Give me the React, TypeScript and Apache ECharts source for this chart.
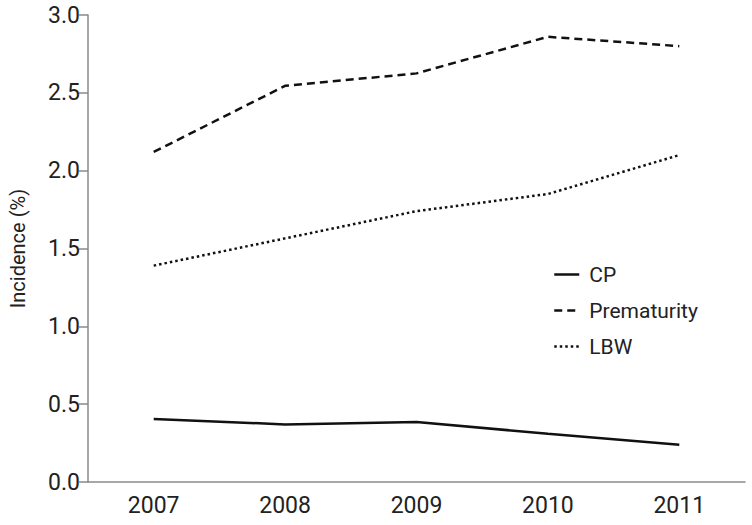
import React, { useEffect, useRef } from "react";
import * as echarts from "echarts";

const years = ["2007", "2008", "2009", "2010", "2011"];
const cp = [0.405, 0.37, 0.385, 0.31, 0.24];
const prematurity = [2.12, 2.545, 2.625, 2.86, 2.8];
const lbw = [1.39, 1.565, 1.74, 1.85, 2.1];

const FONT = "'Liberation Sans Narrow', 'Roboto', sans-serif";
const AXIS_COLOR = "#8a8a8a";

export default function App() {
  const ref = useRef<HTMLDivElement>(null);
  useEffect(() => {
    if (!ref.current) return;
    const chart = echarts.init(ref.current, undefined, { renderer: "svg" });
    const mk = (name: string, data: number[], type: any) => ({
      name,
      type: "line",
      data,
      symbol: "none",
      lineStyle: { color: "#111", width: 2.5, type },
      itemStyle: { color: "#111" },
    });
    chart.setOption({
      animation: false,
      backgroundColor: "#fff",
      textStyle: { fontFamily: FONT },
      grid: { left: 84, right: 7, top: 15, bottom: 43 },
      legend: {
        orient: "vertical",
        left: 548,
        top: 259,
        itemWidth: 25,
        itemHeight: 14,
        itemGap: 15,
        itemStyle: { opacity: 0 },
        lineStyle: { width: 2.5 },
        textStyle: { fontFamily: FONT, fontSize: 21, color: "#222", padding: [0, 0, 0, 5] },
        data: ["CP", "Prematurity", "LBW"],
      },
      xAxis: {
        type: "category",
        data: years,
        boundaryGap: true,
        axisLine: { lineStyle: { color: AXIS_COLOR, width: 1.5 } },
        axisTick: { alignWithLabel: true, length: 10, lineStyle: { color: AXIS_COLOR, width: 1.5 } },
        axisLabel: { fontFamily: FONT, fontSize: 23, color: "#222", margin: 12 },
      },
      yAxis: {
        type: "value",
        min: 0,
        max: 3,
        interval: 0.5,
        name: "Incidence (%)",
        nameLocation: "middle",
        nameGap: 60,
        nameTextStyle: { fontFamily: FONT, fontSize: 20, color: "#222" },
        splitLine: { show: false },
        axisLine: { show: true, lineStyle: { color: AXIS_COLOR, width: 1.5 } },
        axisTick: { show: true, length: 9, lineStyle: { color: AXIS_COLOR, width: 1.5 } },
        axisLabel: {
          fontFamily: FONT,
          fontSize: 23,
          color: "#222",
          margin: 8,
          formatter: (v: number) => v.toFixed(1),
        },
      },
      series: [
        mk("CP", cp, "solid"),
        mk("Prematurity", prematurity, [8, 5]),
        mk("LBW", lbw, [2.5, 3]),
      ],
    });
    return () => chart.dispose();
  }, []);
  return <div ref={ref} style={{ width: 752, height: 525, position: "absolute", left: 0, top: 0 }} />;
}
